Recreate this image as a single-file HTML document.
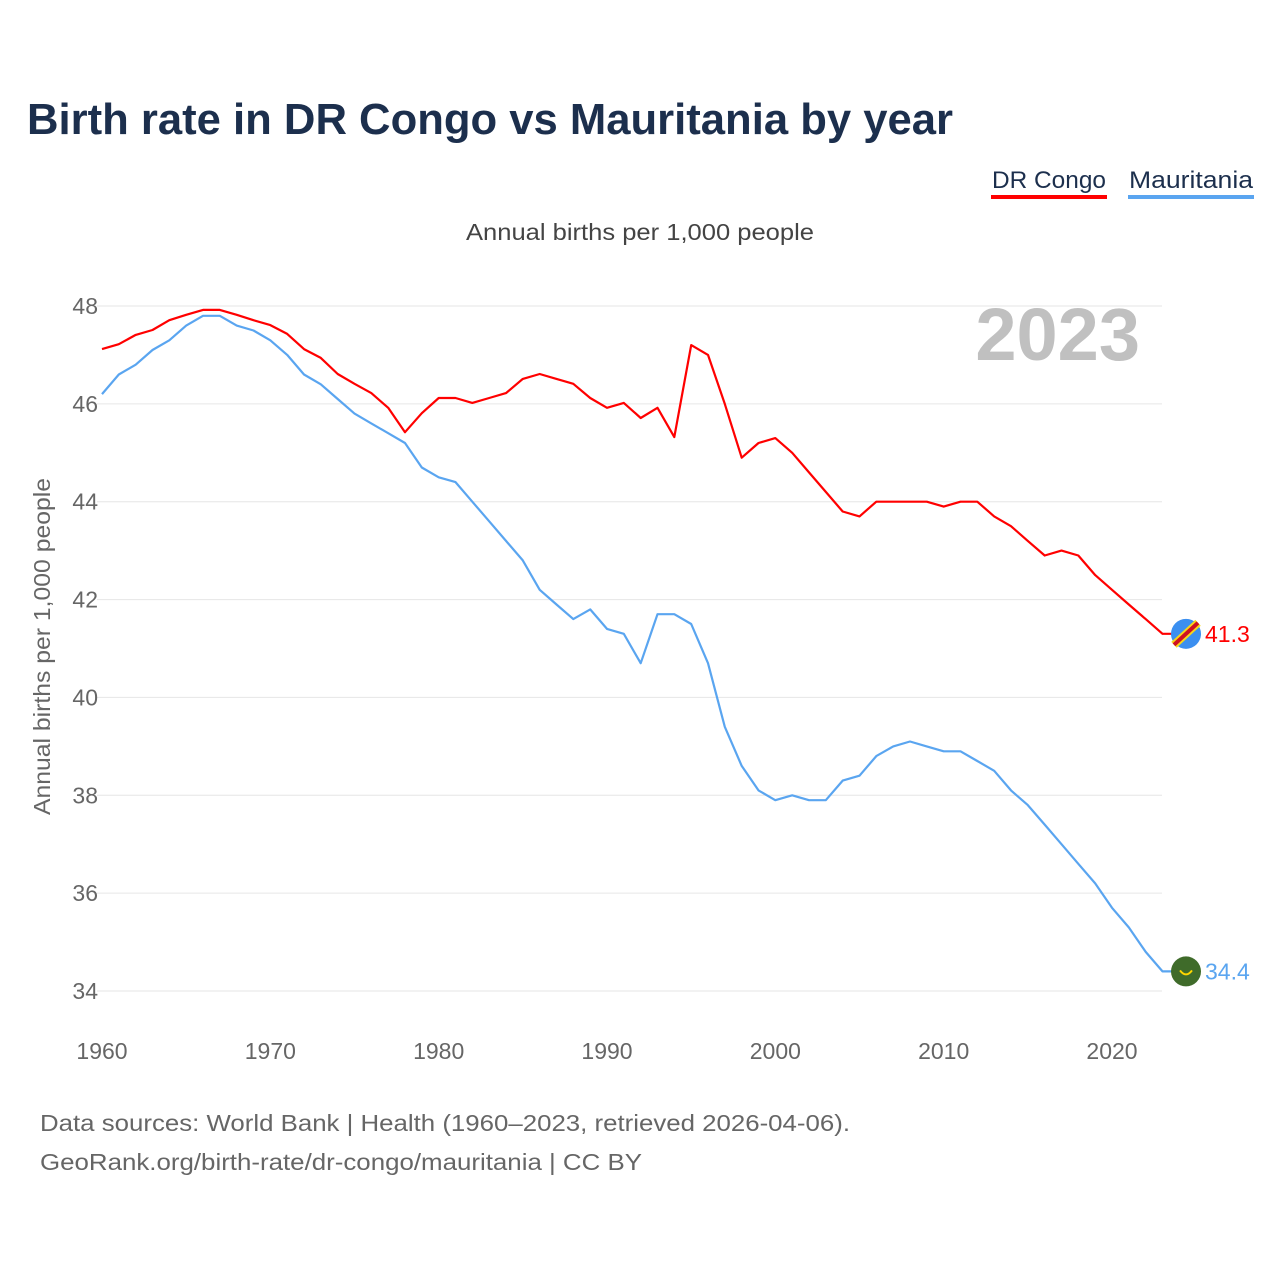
<!DOCTYPE html>
<html><head><meta charset="utf-8"><style>
body{margin:0;background:#fff;font-family:"Liberation Sans",sans-serif;}
#wrap{position:relative;width:1280px;height:1280px;overflow:hidden;}
</style></head><body>
<div id="wrap">
<svg id="chart" width="1280" height="1280">
<text x="27" y="134" font-size="44" font-weight="bold" fill="#1c2f4d" textLength="926" lengthAdjust="spacingAndGlyphs">Birth rate in DR Congo vs Mauritania by year</text>
<g><text x="992" y="188" font-size="24" fill="#1c2f4d" textLength="114" lengthAdjust="spacingAndGlyphs">DR Congo</text><rect x="991" y="195" width="116" height="4" fill="#ff0000"/></g>
<g><text x="1129" y="188" font-size="24" fill="#1c2f4d" textLength="124" lengthAdjust="spacingAndGlyphs">Mauritania</text><rect x="1128" y="195" width="126" height="4" fill="#5aa5f0"/></g>
<text x="466" y="240" font-size="23" fill="#444" textLength="348" lengthAdjust="spacingAndGlyphs">Annual births per 1,000 people</text>
<text x="1140" y="360" font-size="74" font-weight="bold" fill="#c0c0c0" text-anchor="end">2023</text>
<text transform="translate(50,815) rotate(-90)" font-size="23" fill="#666" textLength="337" lengthAdjust="spacingAndGlyphs">Annual births per 1,000 people</text>
<g id="grid"></g><g id="yt"></g><g id="xt"></g><g id="lines"></g>
<text x="40" y="1131" font-size="23" fill="#666" textLength="810" lengthAdjust="spacingAndGlyphs">Data sources: World Bank | Health (1960–2023, retrieved 2026-04-06).</text>
<text x="40" y="1170" font-size="23" fill="#666" textLength="602" lengthAdjust="spacingAndGlyphs">GeoRank.org/birth-rate/dr-congo/mauritania | CC BY</text>
</svg>
</div>
<script>
const years=[];for(let y=1960;y<=2023;y++)years.push(y);
const yTicks=[34,36,38,40,42,44,46,48];
const xTicks=[1960,1970,1980,1990,2000,2010,2020];
const congo=[47.12,47.22,47.41,47.51,47.71,47.82,47.92,47.92,47.82,47.71,47.61,47.43,47.12,46.94,46.61,46.41,46.22,45.92,45.42,45.81,46.12,46.12,46.02,46.12,46.22,46.51,46.61,46.51,46.41,46.12,45.92,46.02,45.71,45.92,45.32,47.2,47.0,46.0,44.9,45.2,45.3,45.0,44.6,44.2,43.8,43.7,44.0,44.0,44.0,44.0,43.9,44.0,44.0,43.7,43.5,43.2,42.9,43.0,42.9,42.5,42.2,41.9,41.6,41.3];
const maur=[46.2,46.6,46.8,47.1,47.3,47.6,47.8,47.8,47.6,47.5,47.3,47.0,46.6,46.4,46.1,45.8,45.6,45.4,45.2,44.7,44.5,44.4,44.0,43.6,43.2,42.8,42.2,41.9,41.6,41.8,41.4,41.3,40.7,41.7,41.7,41.5,40.7,39.4,38.6,38.1,37.9,38.0,37.9,37.9,38.3,38.4,38.8,39.0,39.1,39.0,38.9,38.9,38.7,38.5,38.1,37.8,37.4,37.0,36.6,36.2,35.7,35.3,34.8,34.4];
const X=y=>102+(y-1960)*(1010/60);
const Y=v=>306+(48-v)*(685/14);
const NS="http://www.w3.org/2000/svg";
function mk(t,a,p){const e=document.createElementNS(NS,t);for(const k in a)e.setAttribute(k,a[k]);p.appendChild(e);return e;}
const grid=document.getElementById('grid'),yt=document.getElementById('yt'),xt=document.getElementById('xt'),lines=document.getElementById('lines');
yTicks.forEach(v=>{
 const l=mk('line',{x1:97,x2:1162,y1:Y(v),y2:Y(v),stroke:'#e6e6e6','stroke-width':1},grid);
 
 
 const t=mk('text',{x:98,y:Y(v)+8,'font-size':23,fill:'#666','text-anchor':'end'},yt);t.textContent=v;
 
 
});
xTicks.forEach(v=>{
 const t=mk('text',{x:X(v),y:1059,'font-size':23,fill:'#666','text-anchor':'middle'},xt);t.textContent=v;
 
 
});
function series(vals,col,name,label){
 const d=vals.map((v,i)=>(i?'L':'M')+X(years[i]).toFixed(1)+','+Y(v).toFixed(1)).join('')+'L1172,'+Y(vals[vals.length-1]).toFixed(1);
 const p=mk('path',{d:d,fill:'none',stroke:col,'stroke-width':2.2,'stroke-linejoin':'round'},lines);
 
 
 const last=vals[vals.length-1],cy=Y(last);
 const c=mk('circle',{cx:1186,cy:cy,r:15,fill:name==='dr-congo'?'#3b8ff0':'#3f6b2a'},lines);
 
 
 if(name==='dr-congo'){
  mk('line',{x1:1174,y1:cy+11,x2:1198,y2:cy-11,stroke:'#f7d618','stroke-width':8},lines);
  mk('line',{x1:1174,y1:cy+11,x2:1198,y2:cy-11,stroke:'#ce1021','stroke-width':4},lines);
 } else {
  mk('path',{d:`M1180,${cy-1} Q1186,${cy+7} 1192,${cy-1}`,fill:'none',stroke:'#ffd700','stroke-width':2},lines);
 }
 const t=mk('text',{x:1205,y:cy+8,'font-size':23,fill:col},lines);t.textContent=label;
 
 
}
series(congo,'#ff0000','dr-congo',congo[congo.length-1].toFixed(1));
series(maur,'#5aa5f0','mauritania',maur[maur.length-1].toFixed(1));
</script>
</body></html>
